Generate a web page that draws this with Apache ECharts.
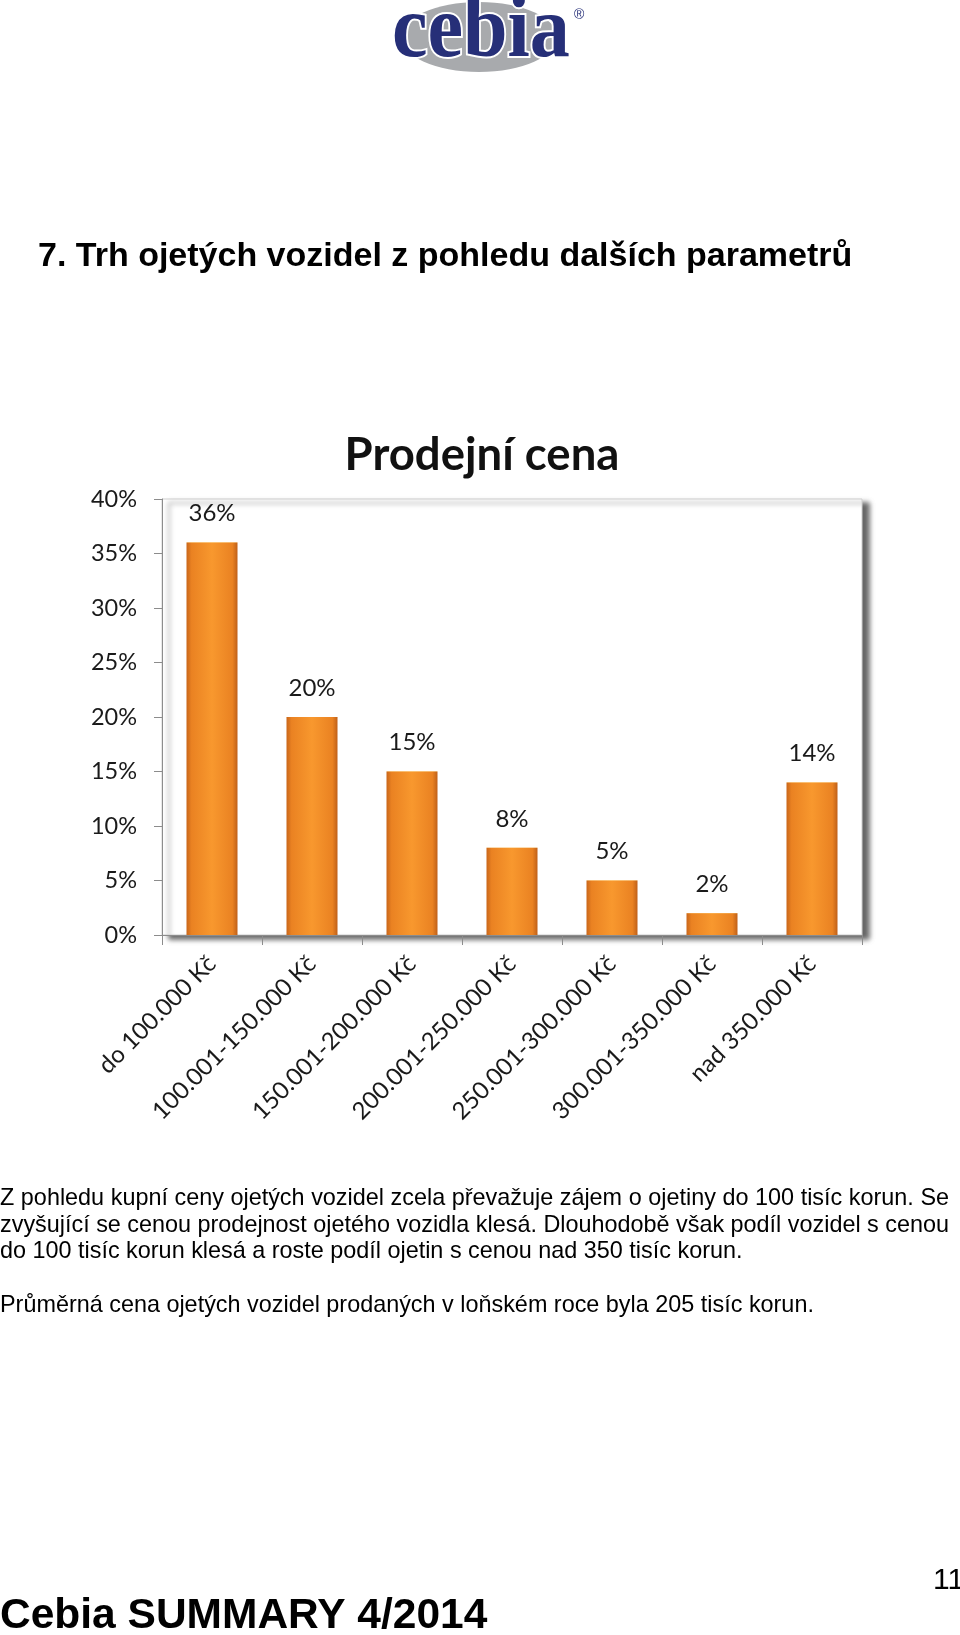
<!DOCTYPE html>
<html>
<head>
<meta charset="utf-8">
<script src="https://cdn.jsdelivr.net/npm/echarts@6/dist/echarts.min.js"></script>
<style>
html,body{margin:0;padding:0;background:#fff;}
#chart{width:960px;height:1635px;}
</style>
</head>
<body>
<div id="chart"></div>
<script>
// ---- data ----
const categories = ['do 100.000 Kč','100.001-150.000 Kč','150.001-200.000 Kč','200.001-250.000 Kč','250.001-300.000 Kč','300.001-350.000 Kč','nad 350.000 Kč'];
const shares = [0.36, 0.20, 0.15, 0.08, 0.05, 0.02, 0.14];
const yMin = 0, yMax = 0.40, yStep = 0.05;

const pageTitle = '7. Trh ojetých vozidel z pohledu dalších parametrů';
const chartTitle = 'Prodejní cena';
const para1 = [
  'Z pohledu kupní ceny ojetých vozidel zcela převažuje zájem o ojetiny do 100 tisíc korun. Se',
  'zvyšující se cenou prodejnost ojetého vozidla klesá. Dlouhodobě však podíl vozidel s cenou',
  'do 100 tisíc korun klesá a roste podíl ojetin s cenou nad 350 tisíc korun.'
];
const para2 = ['Průměrná cena ojetých vozidel prodaných v loňském roce byla 205 tisíc korun.'];
const footerText = 'Cebia SUMMARY 4/2014';
const pageNumber = '11';

// ---- helpers ----
const mctx = document.createElement('canvas').getContext('2d');
function textEl(str, x, baseline, size, family, weight, align, fill) {
  return {
    type: 'text', x: x, y: baseline - 0.345 * size, silent: true,
    style: {
      text: str, font: (weight || 'normal') + ' ' + size + 'px ' + family,
      fill: fill || '#000', align: align || 'left', verticalAlign: 'middle'
    }
  };
}
function lineEls(line, x0, x1, baseline, size, family, justify) {
  if (!justify) return [textEl(line, x0, baseline, size, family)];
  mctx.font = size + 'px ' + family;
  const words = line.split(' ');
  const widths = words.map(w => mctx.measureText(w).width);
  const total = widths.reduce((a, b) => a + b, 0);
  const gap = (x1 - x0 - total) / (words.length - 1);
  const els = [];
  let x = x0;
  words.forEach((w, i) => { els.push(textEl(w, x, baseline, size, family)); x += widths[i] + gap; });
  return els;
}

const bodyFont = '"Liberation Sans", Arial, sans-serif';
const graphics = [];
// logo
graphics.push({ type: 'ellipse', silent: true, shape: { cx: 479, cy: 37, rx: 78, ry: 35 }, style: { fill: '#a8aaad' } });
graphics.push({
  type: 'text', x: 392, y: 63 - 0.34 * 88, scaleX: 0.91, silent: true,
  style: { text: 'cebia', font: 'bold 88px "Liberation Serif", serif', fill: '#262f78',
    stroke: '#fff', lineWidth: 4, strokeFirst: true, align: 'left', verticalAlign: 'middle' }
});
graphics.push(textEl('®', 574, 20, 14, bodyFont, 'normal', 'left', '#262f78'));
// page title
graphics.push(textEl(pageTitle, 38, 268, 34, bodyFont, 'bold'));
// chart title
graphics.push(textEl(chartTitle, 482, 471, 45.5, 'Lato, sans-serif', 'bold', 'center', '#111'));
// paragraphs
const p1Base = [1207, 1234, 1260];
para1.forEach((l, i) => { lineEls(l, 0, 949, p1Base[i], 23.4, bodyFont, i < para1.length - 1).forEach(e => graphics.push(e)); });
para2.forEach((l, i) => { lineEls(l, 0, 949, 1314, 23.4, bodyFont, false).forEach(e => graphics.push(e)); });
// footer
graphics.push(textEl(footerText, 0, 1631, 42.5, bodyFont, 'bold'));
graphics.push(textEl(pageNumber, 933, 1591, 30, bodyFont));

const barGrad = new echarts.graphic.LinearGradient(0, 0, 1, 0, [
  { offset: 0, color: '#c9661a' },
  { offset: 0.1, color: '#ea8222' },
  { offset: 0.5, color: '#f8982e' },
  { offset: 0.9, color: '#ea8222' },
  { offset: 1, color: '#bf6019' }
]);
const bevelGrad = new echarts.graphic.LinearGradient(0, 0, 0, 1, [
  { offset: 0, color: '#ffdc7a' },
  { offset: 1, color: '#fbb640' }
]);

const chart = echarts.init(document.getElementById('chart'), null, { renderer: 'canvas' });
chart.setOption({
  animation: false,
  backgroundColor: '#fff',
  graphic: graphics,
  grid: {
    left: 162, right: 98, top: 499, bottom: 700, show: true,
    backgroundColor: '#fff', borderColor: '#cfcfcf', borderWidth: 1,
    shadowColor: 'rgba(0,0,0,0.6)', shadowBlur: 5, shadowOffsetX: 7, shadowOffsetY: 4
  },
  xAxis: {
    type: 'category', data: categories,
    axisLine: { show: true, lineStyle: { color: '#8c8c8c', width: 1 } },
    axisTick: { show: true, length: 10, lineStyle: { color: '#8c8c8c' } },
    axisLabel: { rotate: 45, interval: 0, margin: 25, fontFamily: 'Lato, sans-serif', fontSize: 24, color: '#1a1a1a' },
    splitLine: { show: false }
  },
  yAxis: {
    type: 'value', min: yMin, max: yMax, interval: yStep,
    axisLine: { show: true, lineStyle: { color: '#8c8c8c', width: 1 } },
    axisTick: { show: true, length: 8, lineStyle: { color: '#8c8c8c' } },
    axisLabel: { margin: 25, fontFamily: 'Lato, sans-serif', fontSize: 23.5, color: '#1a1a1a',
      formatter: v => Math.round(v * 100) + '%' },
    splitLine: { show: false }
  },
  series: [
    {
      type: 'bar', data: shares, barWidth: '51%',
      itemStyle: { color: barGrad },
      label: { show: true, position: 'top', distance: 17, fontFamily: 'Lato, sans-serif', fontSize: 24, color: '#1a1a1a',
        formatter: p => Math.round(p.value * 100) + '%' },
      silent: true
    },
    {
      type: 'custom', silent: true,
      data: shares.map((v, i) => [i, v]),
      renderItem: function (params, api) {
        const top = api.coord([api.value(0), api.value(1)]);
        const w = api.size([1, 0])[0] * 0.51;
        const xl = top[0] - w / 2, xr = top[0] + w / 2, y = top[1];
        return {
          type: 'polygon',
          shape: { points: [[xl, y], [xr, y], [xr - 6, y + 7], [xl + 6, y + 7]] },
          style: { fill: bevelGrad }
        };
      }
    }
  ]
});
</script>
</body>
</html>
